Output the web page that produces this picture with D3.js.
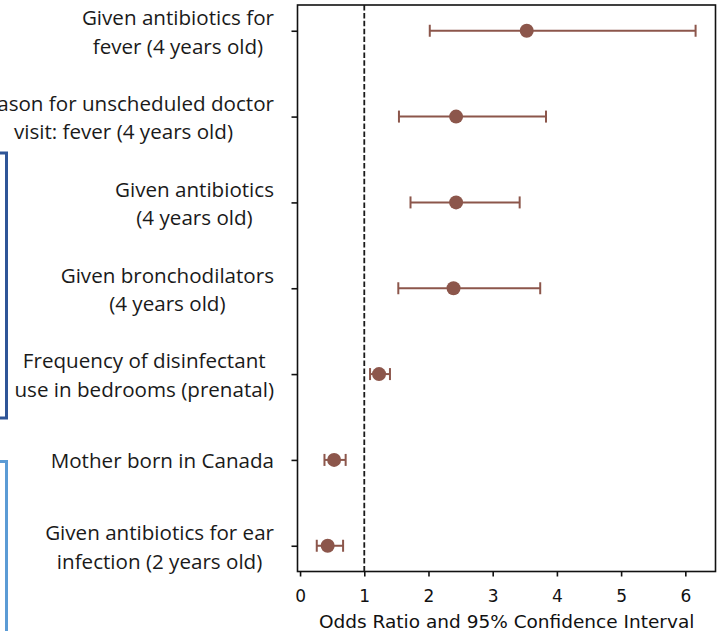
<!DOCTYPE html>
<html>
<head>
<meta charset="utf-8">
<script src="https://cdn.jsdelivr.net/npm/d3@7"></script>
<style>
  html, body { margin: 0; padding: 0; background: #fff; }
  svg { display: block; }
</style>
</head>
<body>
<svg id="chart" width="721" height="631"></svg>
<script>
// ---- data ----
const categories = [
  ["Given antibiotics for", "fever (4 years old)"],
  ["Reason for unscheduled doctor", "visit: fever (4 years old)"],
  ["Given antibiotics", "(4 years old)"],
  ["Given bronchodilators", "(4 years old)"],
  ["Frequency of disinfectant", "use in bedrooms (prenatal)"],
  ["Mother born in Canada"],
  ["Given antibiotics for ear", "infection (2 years old)"]
];
const oddsRatio = [3.53, 2.43, 2.43, 2.39, 1.23, 0.53, 0.43];
const ciLow     = [2.02, 1.54, 1.72, 1.53, 1.09, 0.38, 0.26];
const ciHigh    = [6.16, 3.83, 3.42, 3.74, 1.40, 0.71, 0.67];
const xTicks    = [0, 1, 2, 3, 4, 5, 6];
const xLabel    = "Odds Ratio and 95% Confidence Interval";
const refValue  = 1;

// ---- layout ----
const svg = d3.select("#chart");
const plot = { left: 297.5, right: 715.5, top: 5, bottom: 571.5 };
const markColor = "#8c564b";

const x = d3.scaleLinear().domain([-0.04, 6.47]).range([plot.left, plot.right]);
const keys = categories.map((c, i) => i);
const y = d3.scalePoint().domain(keys).range([plot.top, plot.bottom]).padding(0.3);

// frame
svg.append("rect")
  .attr("x", plot.left).attr("y", plot.top)
  .attr("width", plot.right - plot.left).attr("height", plot.bottom - plot.top)
  .attr("fill", "none").attr("stroke", "#111").attr("stroke-width", 1.6);

// reference line
svg.append("line")
  .attr("x1", x(refValue)).attr("x2", x(refValue))
  .attr("y1", plot.top).attr("y2", plot.bottom)
  .attr("stroke", "#1a1a1a").attr("stroke-width", 1.8)
  .attr("stroke-dasharray", "5.5,2.4");

// x axis
const xAxis = d3.axisBottom(x).tickValues(xTicks).tickFormat(d3.format("d")).tickSizeOuter(0).tickSize(5).tickPadding(13);
const gx = svg.append("g").attr("transform", `translate(0,${plot.bottom})`).call(xAxis);
gx.select(".domain").remove();
gx.selectAll(".tick line").attr("stroke", "#111").attr("stroke-width", 1.6);
gx.selectAll(".tick text").attr("fill", "#111")
  .style("font-family", "'DejaVu Sans', sans-serif").style("font-size", "17px");

svg.append("text")
  .attr("x", 506.7)
  .attr("y", 628)
  .attr("text-anchor", "middle")
  .attr("fill", "#111")
  .style("font-family", "'DejaVu Sans', sans-serif").style("font-size", "18.5px")
  .text(xLabel);

// y ticks
const yAxis = d3.axisLeft(y).tickSize(6).tickFormat("").tickSizeOuter(0);
const gy = svg.append("g").attr("transform", `translate(${plot.left},0)`).call(yAxis);
gy.select(".domain").remove();
gy.selectAll(".tick line").attr("stroke", "#111").attr("stroke-width", 1.6);

// y labels (blocks right-aligned, lines centered)
const labelRight = 274;
const lineH = 28.5;
const capH = 14;
categories.forEach((lines, i) => {
  const g = svg.append("g");
  const texts = lines.map((s, j) => g.append("text")
    .attr("fill", "#1a1a1a")
    .style("font-family", "'Open Sans', sans-serif")
    .style("font-size", "20.6px")
    .attr("text-anchor", "middle")
    .attr("y", y(i) + 1.5 + capH / 2 + (j - (lines.length - 1) / 2) * lineH)
    .text(s));
  const w = d3.max(texts, t => t.node().getComputedTextLength());
  texts.forEach(t => t.attr("x", labelRight - w / 2));
});

// error bars
const capHalf = 6;
const rows = svg.append("g").selectAll("g").data(keys).join("g");
rows.append("line")
  .attr("x1", i => x(ciLow[i])).attr("x2", i => x(ciHigh[i]))
  .attr("y1", i => y(i)).attr("y2", i => y(i))
  .attr("stroke", markColor).attr("stroke-width", 2);
rows.append("line")
  .attr("x1", i => x(ciLow[i])).attr("x2", i => x(ciLow[i]))
  .attr("y1", i => y(i) - capHalf).attr("y2", i => y(i) + capHalf)
  .attr("stroke", markColor).attr("stroke-width", 2);
rows.append("line")
  .attr("x1", i => x(ciHigh[i])).attr("x2", i => x(ciHigh[i]))
  .attr("y1", i => y(i) - capHalf).attr("y2", i => y(i) + capHalf)
  .attr("stroke", markColor).attr("stroke-width", 2);
rows.append("circle")
  .attr("cx", i => x(oddsRatio[i])).attr("cy", i => y(i)).attr("r", 7)
  .attr("fill", markColor);

// group brackets on the left edge
svg.append("path")
  .attr("d", "M0,153 H6.5 V418 H0")
  .attr("fill", "none").attr("stroke", "#2f5597").attr("stroke-width", 3);
svg.append("path")
  .attr("d", "M0,461.5 H6.5 V640")
  .attr("fill", "none").attr("stroke", "#5b9bd5").attr("stroke-width", 3);
</script>
</body>
</html>
